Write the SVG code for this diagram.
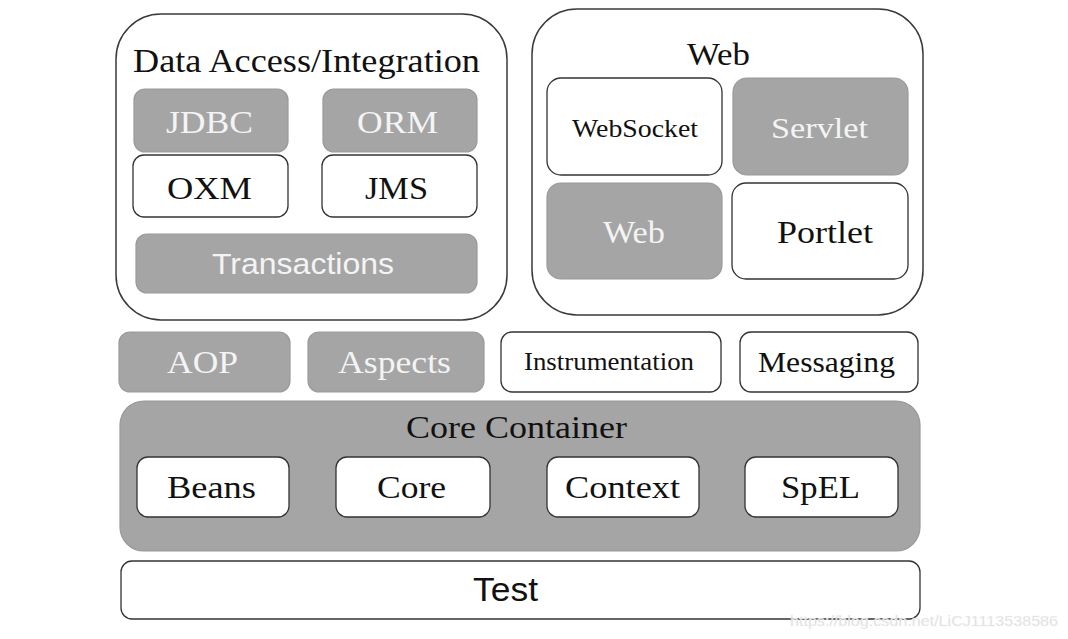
<svg xmlns="http://www.w3.org/2000/svg" width="1068" height="639" viewBox="0 0 1068 639">
<style>
.outer{fill:#fff;stroke:#3a3a3a;stroke-width:1.5}
.w{fill:#fff;stroke:#333;stroke-width:1.3}
.g{fill:#a5a5a5;stroke:#9a9a9a;stroke-width:1.2}
.cc{fill:#a5a5a5;stroke:#999;stroke-width:1.2}
.s{font-family:"Liberation Serif","Times New Roman",serif}
.sa{font-family:"Liberation Sans",Arial,sans-serif}
.dk{fill:#111}
.lt{fill:#f4f4f4}
</style>
<rect width="1068" height="639" fill="#fff"/>
<g id="data-access">
<rect class="outer" x="116" y="14" width="391" height="306" rx="45"/>
<text class="s dk" x="133" y="72" font-size="33" textLength="347" lengthAdjust="spacingAndGlyphs">Data Access/Integration</text>
</g>
<g id="jdbc"><rect class="g" x="134" y="89" width="154" height="63" rx="11"/><text class="s lt" x="166" y="133" font-size="32" textLength="87" lengthAdjust="spacingAndGlyphs">JDBC</text></g>
<g id="orm"><rect class="g" x="323" y="89" width="154" height="63" rx="11"/><text class="s lt" x="357" y="133" font-size="32" textLength="81" lengthAdjust="spacingAndGlyphs">ORM</text></g>
<g id="oxm"><rect class="w" x="133" y="155" width="155" height="62" rx="11"/><text class="s dk" x="167" y="199" font-size="32" textLength="85" lengthAdjust="spacingAndGlyphs">OXM</text></g>
<g id="jms"><rect class="w" x="322" y="155" width="155" height="62" rx="11"/><text class="s dk" x="365" y="199" font-size="32" textLength="63" lengthAdjust="spacingAndGlyphs">JMS</text></g>
<g id="transactions"><rect class="g" x="136" y="234" width="341" height="59" rx="11"/><text class="sa lt" x="212" y="274" font-size="29" textLength="182" lengthAdjust="spacingAndGlyphs">Transactions</text></g>
<g id="web-group">
<rect class="outer" x="532" y="9" width="391" height="306" rx="45"/>
<text class="s dk" x="687" y="65" font-size="32" textLength="63" lengthAdjust="spacingAndGlyphs">Web</text>
</g>
<g id="websocket"><rect class="w" x="547" y="78" width="175" height="97" rx="14"/><text class="s dk" x="572" y="137" font-size="26" textLength="126" lengthAdjust="spacingAndGlyphs">WebSocket</text></g>
<g id="servlet"><rect class="g" x="733" y="78" width="175" height="97" rx="14"/><text class="s lt" x="771" y="138" font-size="30" textLength="97" lengthAdjust="spacingAndGlyphs">Servlet</text></g>
<g id="web"><rect class="g" x="547" y="183" width="175" height="96" rx="14"/><text class="s lt" x="603" y="243" font-size="31" textLength="62" lengthAdjust="spacingAndGlyphs">Web</text></g>
<g id="portlet"><rect class="w" x="732" y="183" width="176" height="96" rx="14"/><text class="s dk" x="777" y="243" font-size="31" textLength="96" lengthAdjust="spacingAndGlyphs">Portlet</text></g>
<g id="aop"><rect class="g" x="119" y="332" width="171" height="60" rx="11"/><text class="s lt" x="167" y="373" font-size="32" textLength="71" lengthAdjust="spacingAndGlyphs">AOP</text></g>
<g id="aspects"><rect class="g" x="308" y="332" width="176" height="60" rx="11"/><text class="s lt" x="338" y="373" font-size="32" textLength="113" lengthAdjust="spacingAndGlyphs">Aspects</text></g>
<g id="instrumentation"><rect class="w" x="501" y="332" width="220" height="60" rx="11"/><text class="s dk" x="524" y="370" font-size="26" textLength="170" lengthAdjust="spacingAndGlyphs">Instrumentation</text></g>
<g id="messaging"><rect class="w" x="740" y="332" width="178" height="60" rx="11"/><text class="s dk" x="758" y="372" font-size="29" textLength="137" lengthAdjust="spacingAndGlyphs">Messaging</text></g>
<g id="core-container">
<rect class="cc" x="120" y="401" width="800" height="150" rx="24"/>
<text class="s dk" x="406" y="438" font-size="32" textLength="221" lengthAdjust="spacingAndGlyphs">Core Container</text>
</g>
<g id="beans"><rect class="w" x="137" y="457" width="152" height="60" rx="11"/><text class="s dk" x="167" y="498" font-size="32" textLength="89" lengthAdjust="spacingAndGlyphs">Beans</text></g>
<g id="core"><rect class="w" x="336" y="457" width="154" height="60" rx="11"/><text class="s dk" x="377" y="498" font-size="32" textLength="69" lengthAdjust="spacingAndGlyphs">Core</text></g>
<g id="context"><rect class="w" x="547" y="457" width="152" height="60" rx="11"/><text class="s dk" x="565" y="498" font-size="32" textLength="115" lengthAdjust="spacingAndGlyphs">Context</text></g>
<g id="spel"><rect class="w" x="745" y="457" width="153" height="60" rx="11"/><text class="s dk" x="781" y="498" font-size="32" textLength="79" lengthAdjust="spacingAndGlyphs">SpEL</text></g>
<g id="test"><rect class="w" x="121" y="561" width="799" height="58" rx="11"/><text class="sa dk" x="473" y="601" font-size="33" textLength="65" lengthAdjust="spacingAndGlyphs">Test</text></g>
<g id="connectors"></g>
<text class="sa" x="790" y="626" font-size="15" fill="#dcdcdc" stroke="#f4f4f4" stroke-width="0.3" textLength="268" lengthAdjust="spacingAndGlyphs">https://blog.csdn.net/LiCJ1113538586</text>
</svg>
